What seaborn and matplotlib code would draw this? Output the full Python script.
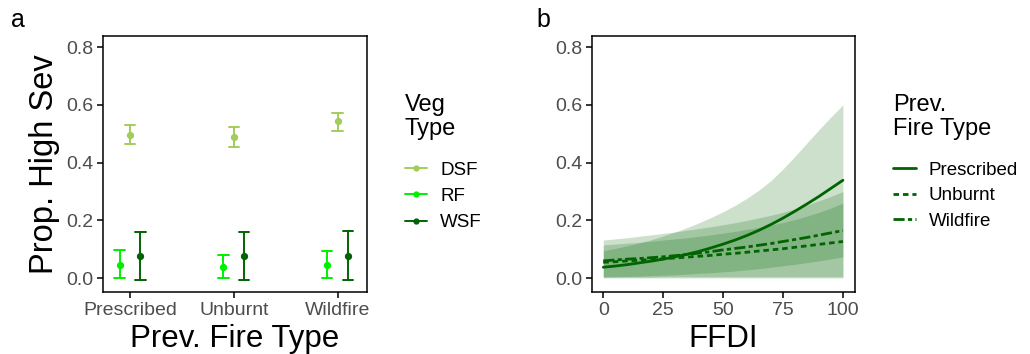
import numpy as np
import pandas as pd
import matplotlib
matplotlib.use("Agg")
import matplotlib.pyplot as plt
from matplotlib.lines import Line2D
import seaborn as sns

# ---------------- data ----------------
fire_types = ["Prescribed", "Unburnt", "Wildfire"]
veg_types = ["DSF", "RF", "WSF"]
# panel a: estimate, lower, upper for each fire type
dsf_mid = [0.497, 0.489, 0.544]
dsf_lo = [0.463, 0.454, 0.509]
dsf_hi = [0.529, 0.524, 0.572]
rf_mid = [0.046, 0.039, 0.046]
rf_lo = [0.000, 0.000, 0.000]
rf_hi = [0.098, 0.080, 0.095]
wsf_mid = [0.077, 0.076, 0.078]
wsf_lo = [-0.006, -0.006, -0.006]
wsf_hi = [0.159, 0.159, 0.162]

# panel b: predictions against FFDI
ffdi = [0, 5, 10, 15, 20, 25, 30, 35, 40, 45, 50, 55, 60, 65, 70, 75, 80, 85, 90, 95, 100]
presc_fit = [0.038, 0.042, 0.047, 0.053, 0.059, 0.066, 0.074, 0.083, 0.093, 0.105, 0.118,
             0.132, 0.148, 0.166, 0.186, 0.208, 0.232, 0.257, 0.283, 0.311, 0.339]
presc_lo = [0.004, 0.004, 0.004, 0.004, 0.004, 0.005, 0.005, 0.005, 0.005, 0.005, 0.005,
            0.005, 0.005, 0.005, 0.005, 0.005, 0.005, 0.005, 0.005, 0.005, 0.005]
presc_hi = [0.095, 0.103, 0.112, 0.122, 0.133, 0.146, 0.160, 0.175, 0.192, 0.210, 0.230,
            0.252, 0.277, 0.305, 0.338, 0.378, 0.422, 0.468, 0.514, 0.558, 0.600]
unb_fit = [0.055, 0.057, 0.060, 0.062, 0.065, 0.067, 0.070, 0.073, 0.076, 0.079, 0.083,
           0.086, 0.090, 0.094, 0.098, 0.102, 0.107, 0.112, 0.117, 0.122, 0.127]
unb_lo = [0.001, 0.001, 0.001, 0.001, 0.001, 0.001, 0.001, 0.001, 0.001, 0.001, 0.001,
          0.001, 0.001, 0.001, 0.001, 0.001, 0.001, 0.001, 0.001, 0.001, 0.001]
unb_hi = [0.115, 0.118, 0.121, 0.124, 0.128, 0.132, 0.136, 0.140, 0.145, 0.150, 0.156,
          0.162, 0.169, 0.176, 0.184, 0.193, 0.203, 0.215, 0.228, 0.243, 0.260]
wild_fit = [0.060, 0.063, 0.066, 0.068, 0.071, 0.074, 0.078, 0.082, 0.087, 0.092, 0.098,
            0.103, 0.108, 0.114, 0.120, 0.127, 0.134, 0.141, 0.149, 0.157, 0.165]
wild_lo = [0.004, 0.005, 0.006, 0.007, 0.009, 0.010, 0.012, 0.014, 0.017, 0.019, 0.022,
           0.025, 0.029, 0.033, 0.038, 0.043, 0.048, 0.054, 0.060, 0.067, 0.074]
wild_hi = [0.132, 0.136, 0.140, 0.145, 0.150, 0.155, 0.160, 0.166, 0.172, 0.178, 0.185,
           0.192, 0.200, 0.209, 0.218, 0.228, 0.240, 0.253, 0.268, 0.283, 0.300]

y_ticks = [0.0, 0.2, 0.4, 0.6, 0.8]
x_ticks_b = [0, 25, 50, 75, 100]

# ---------------- style ----------------
sns.set_style("ticks")
plt.rcParams["font.family"] = ["Liberation Sans", "DejaVu Sans"]
plt.rcParams["text.color"] = "black"
plt.rcParams["axes.labelcolor"] = "black"

veg_colors = {"DSF": "#A2CD5A", "RF": "#00F000", "WSF": "#006400"}
line_color = "#006400"
tick_grey = "#4D4D4D"
fire_styles = {"Prescribed": "-", "Unburnt": (0, (2.0, 1.4)), "Wildfire": (0, (4.0, 1.2, 1.5, 1.2))}

fig = plt.figure(figsize=(10.3, 3.54), dpi=100)
ax_a = fig.add_axes([0.100, 0.175, 0.256, 0.723])
ax_b = fig.add_axes([0.575, 0.175, 0.255, 0.723])

# ---------------- panel a ----------------
rows = []
for veg, mid, lo, hi in [("DSF", dsf_mid, dsf_lo, dsf_hi),
                         ("RF", rf_mid, rf_lo, rf_hi),
                         ("WSF", wsf_mid, wsf_lo, wsf_hi)]:
    for i, ft in enumerate(fire_types):
        for v in (lo[i], mid[i], hi[i]):
            rows.append({"fire": ft, "veg": veg, "prop": v})
df_a = pd.DataFrame(rows)

sns.pointplot(data=df_a, x="fire", y="prop", hue="veg", order=fire_types,
              hue_order=["RF", "DSF", "WSF"], palette=veg_colors,
              estimator="median", errorbar=lambda v: (v.min(), v.max()),
              dodge=0.2, linestyle="none", capsize=0.1, markersize=3.2,
              err_kws={"linewidth": 1.4}, legend=False, ax=ax_a)

ax_a.set_xlim(-0.26, 2.28)
ax_a.set_ylim(-0.048, 0.838)
ax_a.set_yticks(y_ticks)
ax_a.set_yticklabels([f"{t:.1f}" for t in y_ticks])
ax_a.set_xlabel("Prev. Fire Type", fontsize=22.5, labelpad=4, color="black")
ax_a.set_ylabel("Prop. High Sev", fontsize=23.5, labelpad=4, color="black")

# ---------------- panel b ----------------
n = len(ffdi)
df_b = pd.DataFrame({
    "FFDI": ffdi * 3,
    "fit": presc_fit + unb_fit + wild_fit,
    "lo": presc_lo + unb_lo + wild_lo,
    "hi": presc_hi + unb_hi + wild_hi,
    "fire": ["Prescribed"] * n + ["Unburnt"] * n + ["Wildfire"] * n,
})
for ft in fire_types:
    sub = df_b[df_b["fire"] == ft]
    ax_b.fill_between(sub["FFDI"], sub["lo"], sub["hi"], color=line_color, alpha=0.2, linewidth=0)
for ft in fire_types:
    sub = df_b[df_b["fire"] == ft]
    sns.lineplot(data=sub, x="FFDI", y="fit", color=line_color, linewidth=2.0,
                 linestyle=fire_styles[ft], ax=ax_b, legend=False)

ax_b.set_xlim(-4.6, 105)
ax_b.set_ylim(-0.048, 0.838)
ax_b.set_xticks(x_ticks_b)
ax_b.set_yticks(y_ticks)
ax_b.set_yticklabels([f"{t:.1f}" for t in y_ticks])
ax_b.set_xlabel("FFDI", fontsize=22.5, labelpad=4, color="black")
ax_b.set_ylabel("")

for ax in (ax_a, ax_b):
    for s in ax.spines.values():
        s.set_visible(True)
        s.set_linewidth(1.1)
        s.set_color("black")
    ax.tick_params(axis="both", labelsize=14, labelcolor=tick_grey, color="black",
                   length=4, width=1.1, pad=3)

# panel labels
fig.text(0.011, 0.925, "a", fontsize=18, color="black")
fig.text(0.521, 0.925, "b", fontsize=18, color="black")

# legends (titles drawn separately for spacing control)
fig.text(0.393, 0.735, "Veg\nType", fontsize=17, va="top", ha="left", linespacing=1.12,
         color="black")
fig.text(0.867, 0.735, "Prev.\nFire Type", fontsize=17, va="top", ha="left", linespacing=1.12,
         color="black")

veg_handles = [Line2D([0], [0], color=veg_colors[v], marker="o", markersize=3.5, linewidth=1.4)
               for v in veg_types]
leg1 = fig.legend(veg_handles, veg_types, loc="upper left",
                  bbox_to_anchor=(0.393, 0.543), frameon=False, fontsize=13.5,
                  handlelength=1.2, handletextpad=0.7, labelspacing=0.48,
                  borderpad=0, borderaxespad=0, labelcolor="black")
fire_handles = [Line2D([0], [0], color=line_color, linewidth=2.0, linestyle=fire_styles[f])
                for f in fire_types]
leg2 = fig.legend(fire_handles, fire_types, loc="upper left",
                  bbox_to_anchor=(0.867, 0.543), frameon=False, fontsize=13.5,
                  handlelength=1.2, handletextpad=0.7, labelspacing=0.45,
                  borderpad=0, borderaxespad=0, labelcolor="black")

fig.savefig("out.png", dpi=100)
